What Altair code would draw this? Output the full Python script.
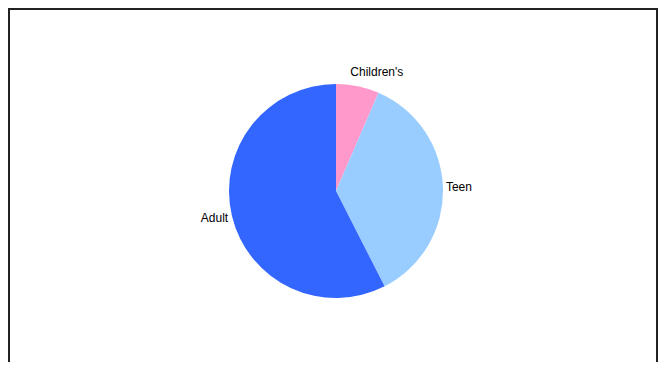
import altair as alt
import pandas as pd

categories = ["Children's", "Teen", "Adult"]
shares = [6.5, 36.0, 57.5]
order = [1, 2, 3]
colors = ["#FF99CC", "#99CCFF", "#3366FF"]

df = pd.DataFrame({"category": categories, "value": shares, "order": order})

W, H = 650, 354
CX, CY = 328, 183

base = alt.Chart(df).transform_window(
    cum="sum(value)", sort=[alt.SortField("order")], frame=[None, 0]
).transform_calculate(
    start="datum.cum - datum.value", mid="datum.cum - datum.value / 2"
)

theta_scale = alt.Scale(domain=[0, 100])

arcs = base.mark_arc(outerRadius=107).encode(
    theta=alt.Theta("start:Q", scale=theta_scale, stack=False),
    theta2="cum:Q",
    x=alt.value(CX), y=alt.value(CY),
    color=alt.Color("category:N", scale=alt.Scale(domain=categories, range=colors), legend=None),
)

def label(cat, align, dx, dy):
    return base.transform_filter(alt.datum.category == cat).mark_text(
        align=align, baseline="middle", dx=dx, dy=dy,
        font="Liberation Sans", fontSize=12, color="black"
    ).encode(
        theta=alt.Theta("mid:Q", scale=theta_scale, stack=False),
        radius=alt.value(115),
        x=alt.value(CX), y=alt.value(CY),
        text="category:N",
    )

frame_data = alt.Data(values=[{"a": 1}])
frame_style = dict(color="#222", strokeWidth=2)
top = alt.Chart(frame_data).mark_rule(**frame_style).encode(
    x=alt.value(0), x2=alt.value(W), y=alt.value(1))
left = alt.Chart(frame_data).mark_rule(**frame_style).encode(
    x=alt.value(1), y=alt.value(0), y2=alt.value(H))
right = alt.Chart(frame_data).mark_rule(**frame_style).encode(
    x=alt.value(W - 1), y=alt.value(0), y2=alt.value(H))

chart = alt.layer(
    arcs,
    label("Children's", "left", -9, -6),
    label("Teen", "left", -5, 0),
    label("Adult", "right", 4, 0),
    top, left, right,
).properties(
    width=W, height=H, padding=0, autosize=alt.AutoSizeParams(type="none")
).configure_view(stroke=None)

chart.save("out.html", embed_options={"renderer": "svg", "actions": False})
